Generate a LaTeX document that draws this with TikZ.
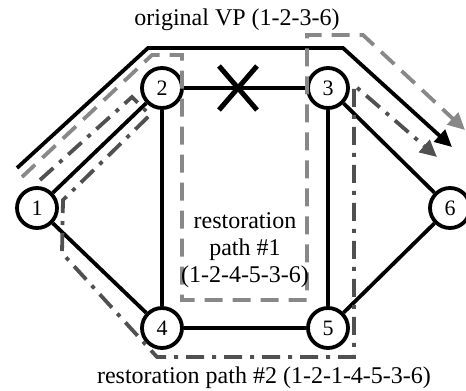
\documentclass[tikz,border=0pt]{standalone}
\usepackage{fontspec}
\setmainfont{Liberation Serif}
\usetikzlibrary{arrows.meta,calc}
\definecolor{rponegray}{HTML}{888888}
\definecolor{rptwogray}{HTML}{505050}
\begin{document}
\begin{tikzpicture}[x=1pt,y=-1pt,
  netnode/.style={circle,draw,line width=3.8pt,fill=white,minimum size=40pt,
    inner sep=0pt,font=\fontsize{22}{22}\selectfont},
  link/.style={line width=3.8pt},
  tip/.style={-{Triangle[length=17pt,width=16pt]}},
  vppath/.style={line width=3.8pt,tip},
  rpone/.style={line width=3.8pt,draw=rponegray,tip,
    dash pattern=on 18pt off 10pt},
  rptwo/.style={line width=3.8pt,draw=rptwogray,tip,
    dash pattern=on 18pt off 8pt on 4pt off 8pt},
  lbl/.style={font=\fontsize{24}{27}\selectfont,inner sep=0pt}
]
\useasboundingbox (0,0) rectangle (466,391);

% network nodes
\node[netnode] (n1) at (37,208) {1};
\node[netnode] (n2) at (162,88) {2};
\node[netnode] (n3) at (328,88) {3};
\node[netnode] (n4) at (162,328) {4};
\node[netnode] (n5) at (328,328) {5};
\node[netnode] (n6) at (450,208) {6};

% network links
\draw[link] (n1) -- (n2);
\draw[link] (n2) -- (n3);
\draw[link] (n2) -- (n4);
\draw[link] (n3) -- (n5);
\draw[link] (n4) -- (n5);
\draw[link] (n1) -- (n4);
\draw[link] (n3) -- (n6);
\draw[link] (n5) -- (n6);

% failed link 2-3
\coordinate (fail) at (238,88);
\draw[line width=5pt] ($(fail)+(-19,-22)$) -- ($(fail)+(19,22)$)
  ($(fail)+(19,-22)$) -- ($(fail)+(-19,22)$);

% original virtual path 1-2-3-6
\draw[vppath] (17,168) -- (148,48) -- (343,48) -- (452,147);

% restoration path #1: 1-2-4-5-3-6
\draw[rpone] (22,177) -- (152,55) -- (182,55) -- (182,300) -- (307,300)
  -- (307,35) -- (363,35) -- (465,130);

% restoration path #2: 1-2-1-4-5-3-6
\draw[rptwo] (40,180) -- (132,97) -- (150,115) -- (63,200) -- (62,253)
  -- (157,357) -- (354,357) -- (354,85) -- (437,157);

% labels
\node[lbl] (vplbl) at (237,20) {original VP (1-2-3-6)};
\node[lbl,align=center] (rponelbl) at (245,250)
  {restoration\\path \#1\\(1-2-4-5-3-6)};
\node[lbl] (rptwolbl) at (264,378) {restoration path \#2 (1-2-1-4-5-3-6)};
\end{tikzpicture}
\end{document}
